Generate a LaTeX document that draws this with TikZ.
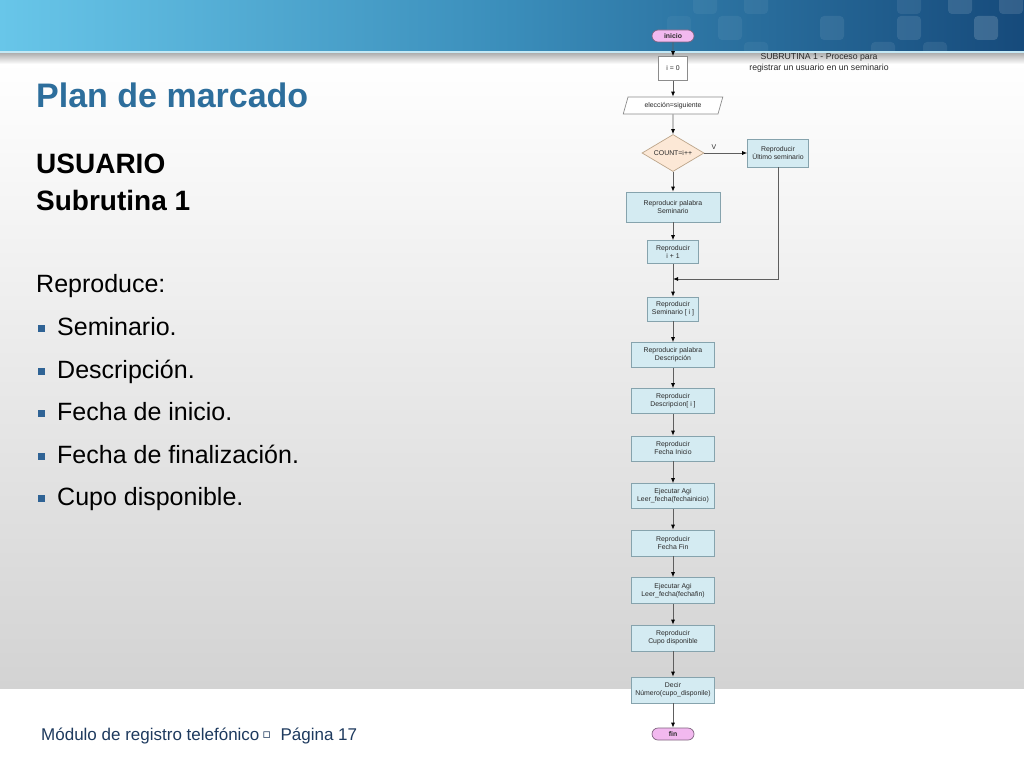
\documentclass[tikz,border=0pt]{standalone}
\usepackage{fontspec}
\setmainfont{Liberation Sans}
\newfontfamily\symfont{DejaVu Sans}
\usepackage{xcolor}
\usepackage{tikz}
\usetikzlibrary{shapes,arrows.meta,calc}

\definecolor{cTitle}{HTML}{2D6E9C}
\definecolor{cFoot}{HTML}{1E3A5E}
\definecolor{cBullet}{HTML}{2F6395}
\definecolor{cBoxFill}{HTML}{D4EBF2}
\definecolor{cBoxLine}{HTML}{86A3AD}
\definecolor{cPillFill}{HTML}{F2B9EF}
\definecolor{cPillLine}{HTML}{7E637E}
\definecolor{cDecFill}{HTML}{FCE8D6}
\definecolor{cDecLine}{HTML}{BCA58A}
\definecolor{cConn}{HTML}{5E5E5E}
\definecolor{cBanL}{HTML}{68C6E9}
\definecolor{cBanM}{HTML}{3A8DBA}
\definecolor{cBanR}{HTML}{164A7B}
\definecolor{cRule}{HTML}{C4E8F4}
\definecolor{cBodyBot}{HTML}{D3D3D3}
\definecolor{cSmallText}{HTML}{2A2A2A}

\tikzstyle{tsSmall} = [
    text=cSmallText,
    font=\fontsize{6.9}{8}\selectfont
]
\tikzstyle{tsBox} = [
    rectangle,
    tsSmall,
    align=center,
    draw=cBoxLine,
    fill=cBoxFill,
    line width=0.7pt,
    inner sep=0pt]
\tikzstyle{tsPlain} = [
    tsBox,
    fill=white,
    draw=black!45]
\tikzstyle{tsPill} = [
    rounded rectangle,
    tsSmall,
    font=\fontsize{6.9}{8}\selectfont\bfseries,
    draw=cPillLine,
    fill=cPillFill,
    line width=0.7pt,
    minimum width=42pt,
    minimum height=12pt,
    inner sep=0pt]
\tikzstyle{tsDecision} = [
    diamond,
    tsSmall,
    aspect=1.68,
    draw=cDecLine,
    fill=cDecFill,
    line width=0.7pt,
    minimum width=62pt,
    minimum height=37pt,
    inner sep=0pt]
\tikzstyle{tsData} = [
    trapezium,
    trapezium left angle=65,
    trapezium right angle=115,
    trapezium stretches=true,
    tsSmall,
    draw=black!45,
    fill=white,
    line width=0.7pt,
    minimum width=100pt,
    minimum height=17pt,
    inner sep=0pt]
\tikzstyle{tsLine} = [
    draw=cConn,
    line width=0.8pt]
\tikzstyle{tsArrow} = [
    tsLine,
    -{Latex[length=5pt,width=4pt,color=black]}]
\tikzstyle{tsItem} = [
    anchor=base west,
    inner sep=0pt,
    text=black,
    font=\fontsize{25}{30}\selectfont]

\begin{document}
\begin{tikzpicture}[x=1pt, y=-1pt]

        % slide background
        \useasboundingbox (0,0) rectangle (1024,768);
        \fill[white] (0,0) rectangle (1024,768);
        \shade[top color=white, bottom color=cBodyBot] (0,60) rectangle (1024,688);
        \shade[left color=cBanL, right color=cBanR, middle color=cBanM] (0,0) rectangle (1024,51);
        \begin{scope}
            \clip (0,0) rectangle (1024,51);
            \fill[white, opacity=0.05, rounded corners=4pt] (693,-10) rectangle ++(24,24);
            \fill[white, opacity=0.06, rounded corners=4pt] (744,-10) rectangle ++(24,24);
            \fill[white, opacity=0.08, rounded corners=4pt] (897,-10) rectangle ++(24,24);
            \fill[white, opacity=0.12, rounded corners=4pt] (948,-10) rectangle ++(24,24);
            \fill[white, opacity=0.12, rounded corners=4pt] (999,-10) rectangle ++(24,24);
            \fill[white, opacity=0.04, rounded corners=4pt] (667,16) rectangle ++(24,24);
            \fill[white, opacity=0.06, rounded corners=4pt] (718,16) rectangle ++(24,24);
            \fill[white, opacity=0.08, rounded corners=4pt] (820,16) rectangle ++(24,24);
            \fill[white, opacity=0.10, rounded corners=4pt] (897,16) rectangle ++(24,24);
            \fill[white, opacity=0.16, rounded corners=4pt] (974,16) rectangle ++(24,24);
            \fill[white, opacity=0.05, rounded corners=4pt] (744,42) rectangle ++(24,24);
            \fill[white, opacity=0.08, rounded corners=4pt] (871,42) rectangle ++(24,24);
            \fill[white, opacity=0.08, rounded corners=4pt] (923,42) rectangle ++(24,24);
        \end{scope}
        \fill[cRule] (0,51) rectangle (1024,53.5);
        \shade[top color=black!30, bottom color=white] (0,53.5) rectangle (1024,64);

        % left column text
        \node[anchor=base west, inner sep=0pt, text=cTitle, font=\fontsize{34}{40}\selectfont\bfseries] (title) at (36,107) {Plan de marcado};
        \node[anchor=base west, inner sep=0pt, text=black, font=\fontsize{28}{34}\selectfont\bfseries] (user) at (36,173) {USUARIO};
        \node[anchor=base west, inner sep=0pt, text=black, font=\fontsize{28}{34}\selectfont\bfseries] (subr) at (36,210) {Subrutina 1};
        \node[tsItem] (repro) at (36,292) {Reproduce:};

        \fill[cBullet] (37.5,325) rectangle ++(7,7);
        \fill[cBullet] (37.5,368) rectangle ++(7,7);
        \fill[cBullet] (37.5,410) rectangle ++(7,7);
        \fill[cBullet] (37.5,453) rectangle ++(7,7);
        \fill[cBullet] (37.5,495) rectangle ++(7,7);
        \node[tsItem] (itSem) at (57,335) {Seminario.};
        \node[tsItem] (itDesc) at (57,378) {Descripción.};
        \node[tsItem] (itIni) at (57,420) {Fecha de inicio.};
        \node[tsItem] (itFin) at (57,463) {Fecha de finalización.};
        \node[tsItem] (itCupo) at (57,505) {Cupo disponible.};

        \node[anchor=base west, inner sep=0pt, text=cFoot, font=\fontsize{17}{20}\selectfont] (foot) at (41,740)
            {Módulo de registro telefónico\,\raisebox{1.5pt}{\symfont\fontsize{13}{13}\selectfont ▫}\ \ Página 17};

        % flowchart
        \node[align=center, inner sep=0pt, text=cSmallText, font=\fontsize{8.7}{11}\selectfont] (caption) at (819,63)
            {SUBRUTINA 1 - Proceso para\\registrar un usuario en un seminario};

        \node[tsPill] (inicio) at (673,36) {inicio};
        \node[tsPlain, minimum width=29pt, minimum height=24pt] (i0) at (673,68.5) {i = 0};
        \node[tsData] (elec) at (673,105.5) {elección=siguiente};
        \node[tsDecision] (count) at (673,153) {COUNT=i++};
        \node[tsBox, minimum width=61pt, minimum height=28pt] (ultimo) at (778,153) {Reproducir\\Último seminario};
        \node[tsBox, minimum width=94pt, minimum height=30pt] (palSem) at (673,207) {Reproducir palabra\\Seminario};
        \node[tsBox, minimum width=51pt, minimum height=23pt] (inc) at (673,252) {Reproducir\\i + 1};
        \coordinate (join) at (673,279);
        \node[tsBox, minimum width=51pt, minimum height=24pt] (sem) at (673,309) {Reproducir\\Seminario [ i ]};
        \node[tsBox, minimum width=83pt, minimum height=25pt] (palDesc) at (673,355) {Reproducir palabra\\Descripción};
        \node[tsBox, minimum width=83pt, minimum height=25pt] (desc) at (673,401) {Reproducir\\Descripcion[ i ]};
        \node[tsBox, minimum width=83pt, minimum height=25pt] (fIni) at (673,448.5) {Reproducir\\Fecha Inicio};
        \node[tsBox, minimum width=83pt, minimum height=25pt] (leerIni) at (673,496) {Ejecutar Agi\\Leer\_fecha(fechainicio)};
        \node[tsBox, minimum width=83pt, minimum height=26pt] (fFin) at (673,543) {Reproducir\\Fecha Fin};
        \node[tsBox, minimum width=83pt, minimum height=26pt] (leerFin) at (673,590.5) {Ejecutar Agi\\Leer\_fecha(fechafin)};
        \node[tsBox, minimum width=83pt, minimum height=26pt] (cupo) at (673,638) {Reproducir\\Cupo disponible};
        \node[tsBox, minimum width=83pt, minimum height=26pt] (decir) at (673,690) {Decir\\Número(cupo\_disponile)};
        \node[tsPill] (fin) at (673,734) {fin};

        \node[tsSmall, inner sep=0pt] (lblV) at (714,147) {V};

        \draw[tsArrow] (inicio) -- (i0);
        \draw[tsArrow] (i0) -- (elec);
        \draw[tsArrow] (elec) -- (count);
        \draw[tsArrow] (count) -- (ultimo);
        \draw[tsArrow] (count) -- (palSem);
        \draw[tsArrow] (palSem) -- (inc);
        \draw[tsLine] (inc) -- (join);
        \draw[tsArrow] (ultimo) |- (join);
        \draw[tsArrow] (join) -- (sem);
        \draw[tsArrow] (sem) -- (palDesc);
        \draw[tsArrow] (palDesc) -- (desc);
        \draw[tsArrow] (desc) -- (fIni);
        \draw[tsArrow] (fIni) -- (leerIni);
        \draw[tsArrow] (leerIni) -- (fFin);
        \draw[tsArrow] (fFin) -- (leerFin);
        \draw[tsArrow] (leerFin) -- (cupo);
        \draw[tsArrow] (cupo) -- (decir);
        \draw[tsArrow] (decir) -- (fin);

\end{tikzpicture}
\end{document}
